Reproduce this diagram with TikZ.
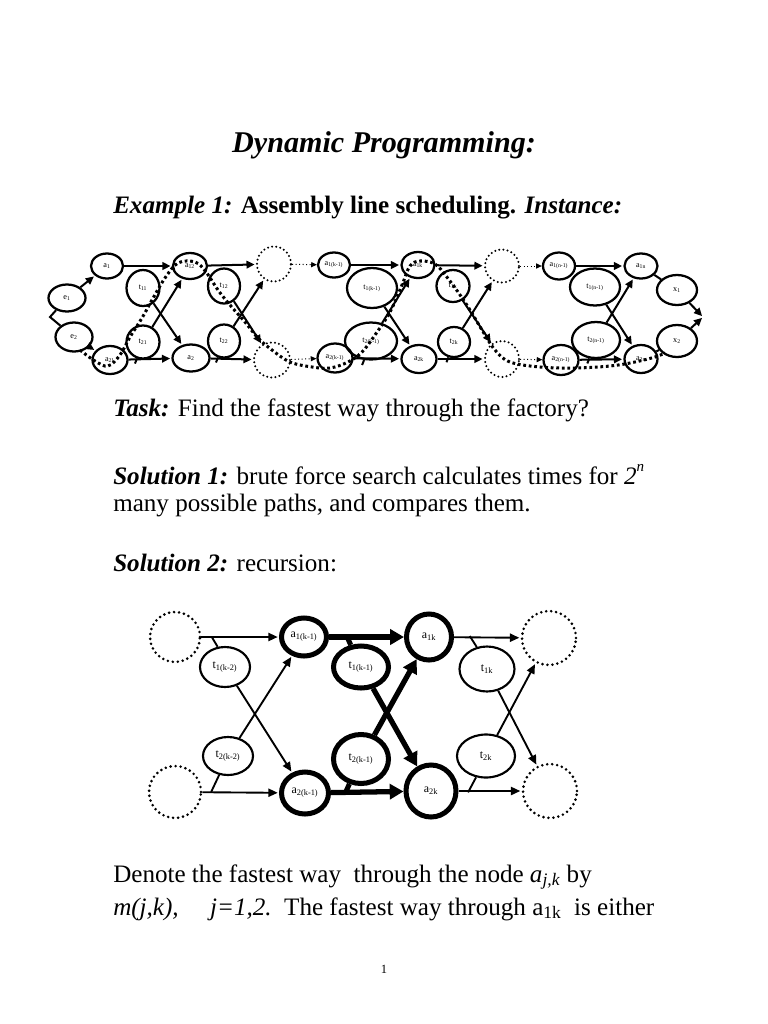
\documentclass[tikz,border=0pt]{standalone}
\usepackage{fontspec}
\setmainfont{Liberation Serif}
\usetikzlibrary{positioning,arrows.meta,shapes.geometric}
\def\pu{0.797pt}

\begin{document}
\begin{tikzpicture}[x=0.797pt, y=-0.797pt,
  st/.style 2 args={ellipse, draw, line width=1.8pt, inner sep=0pt,
             minimum width=#1*\pu, minimum height=#2*\pu, font=\fontsize{6.5}{7}\selectfont},
  dc/.style 2 args={ellipse, draw, line width=1.8pt, dash pattern=on 0pt off 3.3pt, line cap=round,
             inner sep=0pt, minimum width=#1*\pu, minimum height=#2*\pu},
  big/.style 2 args={ellipse, draw, line width=1.7pt, inner sep=0pt,
             minimum width=#1*\pu, minimum height=#2*\pu, font=\fontsize{9.5}{11}\selectfont},
  bigth/.style 2 args={big={#1}{#2}, line width=4pt},
  dcr/.style={circle, draw, line width=2.3pt, dash pattern=on 0pt off 4pt, line cap=round,
             inner sep=0pt, minimum size=#1*\pu},
  ar/.style={-{Triangle[length=6.5pt,width=6pt]}, line width=1.6pt, shorten >=1pt},
  ln/.style={line width=1.6pt},
  dar/.style={-{Triangle[length=4.5pt,width=4pt]}, line width=0.8pt, dotted},
  fast/.style={line width=2.4pt, dash pattern=on 2.2pt off 2.2pt},
  arr/.style={-{Triangle[length=7.5pt,width=6.5pt]}, line width=1.5pt, shorten >=1pt},
  arth/.style={-{Triangle[length=11pt,width=12pt]}, line width=4.2pt},
  txt/.style={anchor=base west, inner sep=0pt, font=\fontsize{20}{24}\selectfont},
]
\useasboundingbox (0,0) rectangle (768,1024);

% text
\node[anchor=base, inner sep=0pt, font=\fontsize{24}{28}\selectfont\bfseries\itshape] (title) at (384,152) {Dynamic Programming:};
\node[txt] (ex)    at (113,213) {\textbf{\textit{Example 1:}} \textbf{Assembly line scheduling.} \textbf{\textit{Instance:}}};
\node[txt] (task)  at (113,416) {\textbf{\textit{Task:}} Find the fastest way through the factory?};
\node[txt] (sol1)  at (113,484) {\textbf{\textit{Solution 1:}} brute force search calculates times for \textit{2}\raisebox{1.1ex}{\fontsize{12}{12}\selectfont\textit{n}}};
\node[txt] (sol1b) at (113,511) {many possible paths, and compares them.};
\node[txt] (sol2)  at (113,571) {\textbf{\textit{Solution 2:}} recursion:};
\node[txt] (den)   at (113,882) {Denote the fastest way \ through the node \textit{a}\textsubscript{\textit{j,k}} by};
\node[txt] (den2)  at (113,915) {\textit{m(j,k),}\quad\ \textit{j=1,2.}\ \ The fastest way through a\textsubscript{1k} \ is either};
\node[anchor=base, inner sep=0pt, font=\fontsize{10}{12}\selectfont] (pg) at (384,973) {1};

% assembly lines
\node[st={37}{27}] (e1)   at (67,298)  {e\textsubscript{1}};
\node[st={37}{29}] (e2)   at (74,337)  {e\textsubscript{2}};
\node[st={32}{25}] (a11)  at (107,266) {a\textsubscript{1}};
\node[st={35}{28}] (a21)  at (110,360) {a\textsubscript{21}};
\node[st={33}{36}] (t11)  at (143,288) {t\textsubscript{11}};
\node[st={33}{33}] (t21)  at (143,342) {t\textsubscript{21}};
\node[st={34}{26}] (a12)  at (190,266) {a\textsubscript{12}};
\node[st={37}{27}] (a22)  at (191,358) {a\textsubscript{2}};
\node[st={32}{35}] (t12)  at (224,286) {t\textsubscript{12}};
\node[st={32}{33}] (t22)  at (224,341) {t\textsubscript{22}};
\node[dc={34}{35}] (dt1)  at (274,264) {};
\node[dc={36}{35}] (db1)  at (272,360) {};
\node[st={32}{25}] (a1km) at (334,265) {a\textsubscript{1(k-1)}};
\node[st={50}{40}] (t1km) at (372,288) {t\textsubscript{1(k-1)}};
\node[st={52}{37}] (t2km) at (371,341) {t\textsubscript{2(k-1)}};
\node[st={35}{29}] (a2km) at (335,358) {a\textsubscript{2(k-1)}};
\node[st={33}{26}] (a1k)  at (418,265) {a\textsubscript{1k}};
\node[st={35}{28}] (a2k)  at (419,359) {a\textsubscript{2k}};
\node[st={33}{32}] (t1k)  at (453,286) {t\textsubscript{1k}};
\node[st={32}{30}] (t2k)  at (454,342) {t\textsubscript{2k}};
\node[dc={34}{33}] (dt2)  at (502,266) {};
\node[dc={34}{36}] (db2)  at (502,359) {};
\node[st={32}{27}] (a1nm) at (559,266) {a\textsubscript{1(n-1)}};
\node[st={50}{37}] (t1nm) at (595,287) {t\textsubscript{1(n-1)}};
\node[st={48}{36}] (t2nm) at (596,340) {t\textsubscript{2(n-1)}};
\node[st={35}{30}] (a2nm) at (561,360) {a\textsubscript{2(n-1)}};
\node[st={33}{25}] (a1n)  at (641,266) {a\textsubscript{1n}};
\node[st={33}{28}] (a2n)  at (641,359) {a\textsubscript{2n}};
\node[st={40}{30}] (x1)   at (677,290) {x\textsubscript{1}};
\node[st={40}{32}] (x2)   at (677,341) {x\textsubscript{2}};
\coordinate (in)  at (50,317);
\coordinate (out) at (703,317);

\foreach \a/\b in {e1/a11,e2/a21,a11/a12,a21/a22,t11/a22,t21/a12,a12/dt1,a22/db1,t12/db1,t22/dt1,
                   a1km/a1k,a2km/a2k,t1km/a2k,t2km/a1k,a1k/dt2,a2k/db2,t1k/db2,t2k/dt2,
                   a1nm/a1n,a2nm/a2n,t1nm/a2n,t2nm/a1n,x1/out,x2/out}
  \draw[ar] (\a) -- (\b);
\foreach \a/\b in {dt1/a1km,db1/a2km,dt2/a1nm,db2/a2nm}
  \draw[dar] (\a) -- (\b);
\draw[ln] (e1) -- (in) -- (e2);
\draw[ln] (a1n) -- (x1);
\draw[ln] (a2n) -- (x2);
\foreach \t in {t21,t22,t2km,t2k,t2nm}
  \draw[ln] (\t.250) -- ++(-2,5);

% fastest way
\draw[fast] plot[smooth, tension=0.6] coordinates {(80,350) (95,361) (108,366) (120,355) (130,337) (142,318)
  (152,300) (165,278) (178,263) (195,262) (206,272) (218,290) (230,305) (245,322) (258,338) (272,350)
  (290,362) (312,367) (330,368) (348,362) (362,352) (375,335) (390,312) (402,285) (410,266) (420,261)
  (435,264) (446,276) (458,292) (470,310) (482,330) (495,350) (510,362) (540,367) (575,368) (610,366)
  (635,362) (655,357) (665,353)};

% recursion
\node[dcr=50] (rdtl) at (175,637) {};
\node[dcr=52] (rdbl) at (175,792) {};
\node[big={50}{40}]   (rt1kk) at (225,667) {t\textsubscript{1(k-2)}};
\node[big={50}{38}]   (rt2kk) at (228,756) {t\textsubscript{2(k-2)}};
\node[bigth={45}{38}] (ra1km) at (304,637) {a\textsubscript{1(k-1)}};
\node[bigth={47}{42}] (ra2km) at (305,793) {a\textsubscript{2(k-1)}};
\node[bigth={55}{42}] (rt1km) at (361,667) {t\textsubscript{1(k-1)}};
\node[bigth={55}{49}] (rt2km) at (361,759) {t\textsubscript{2(k-1)}};
\node[bigth={45}{46}] (ra1k)  at (429,637) {a\textsubscript{1k}};
\node[bigth={50}{52}] (ra2k)  at (431,791) {a\textsubscript{2k}};
\node[big={55}{45}]   (rt1k)  at (487,669) {t\textsubscript{1k}};
\node[big={58}{43}]   (rt2k)  at (486,756) {t\textsubscript{2k}};
\node[dcr=54] (rdtr) at (549,638) {};
\node[dcr=54] (rdbr) at (550,791) {};

\foreach \a/\b in {rdtl/ra1km,rdbl/ra2km,rt1kk/ra2km,rt2kk/ra1km,ra1k/rdtr,ra2k/rdbr,rt1k/rdbr,rt2k/rdtr}
  \draw[arr] (\a) -- (\b);
\foreach \a/\b in {ra1km/ra1k,ra2km/ra2k,rt1km/ra2k,rt2km/ra1k}
  \draw[arth] (\a) -- (\b);
\draw[line width=1.5pt] (rt1kk.110) -- ++(-6,-10);
\draw[line width=1.5pt] (rt2kk.245) -- ++(-8,17);
\draw[line width=4pt]   (rt1km.115) -- ++(-4,-9);
\draw[line width=4pt]   (rt2km.245) -- ++(-4,9);
\draw[line width=1.5pt] (rt1k.115) -- ++(-7,-11);
\draw[line width=1.5pt] (rt2k.245) -- ++(-8,15);
\end{tikzpicture}
\end{document}
